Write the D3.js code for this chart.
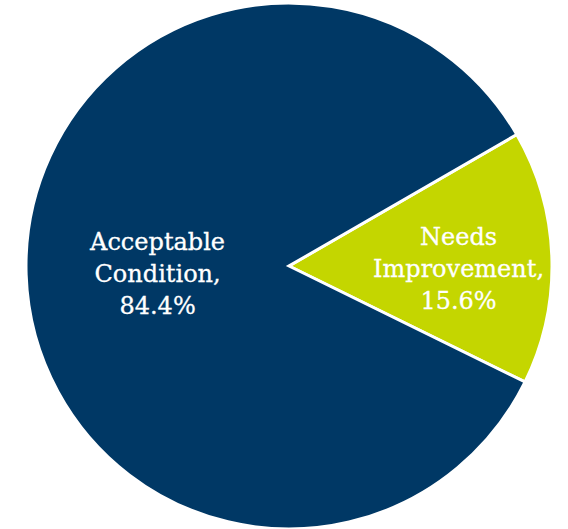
<!DOCTYPE html>
<html><head><meta charset="utf-8">
<script src="https://cdn.jsdelivr.net/npm/d3@7"></script>
<style>body{margin:0;background:#fff}</style>
</head><body>
<svg id="c" width="568" height="529"></svg>
<script>
const categories = ["Needs Improvement", "Acceptable Condition"];
const values = [15.6, 84.4];
const labels = [["Needs", "Improvement,", "15.6%"], ["Acceptable", "Condition,", "84.4%"]];
const colors = ["#c4d600", "#003865"];

const svg = d3.select("#c");
const cx = 289, cy = 266, r = 263;
const g = svg.append("g").attr("transform", `translate(${cx},${cy})`);
const start = 60 * Math.PI / 180;
const pie = d3.pie().sort(null).value(d => d).startAngle(start).endAngle(start + 2 * Math.PI);
const arcs = pie(values);
const arc = d3.arc().innerRadius(0).outerRadius(r);
g.selectAll("path").data(arcs).enter().append("path")
  .attr("d", arc).attr("fill", (d, i) => colors[i])
  .attr("stroke", "#fff").attr("stroke-width", 3).attr("stroke-linejoin", "miter");
const ratios = [0.645, 0.5];
const dy = [17, 12];
arcs.forEach((d, i) => {
  const la = d3.arc().innerRadius(r * ratios[i]).outerRadius(r * ratios[i]);
  const [x, y] = la.centroid(d);
  const t = g.append("text").attr("text-anchor", "middle")
    .attr("font-family", "DejaVu Serif").attr("font-size", 24).attr("fill", "#fff")
    .attr("stroke", "#fff").attr("stroke-width", 0.3);
  labels[i].forEach((line, j) => {
    t.append("tspan").attr("x", x).attr("y", y + (j - 1) * 32 + dy[i]).text(line);
  });
});
</script>
</body></html>
